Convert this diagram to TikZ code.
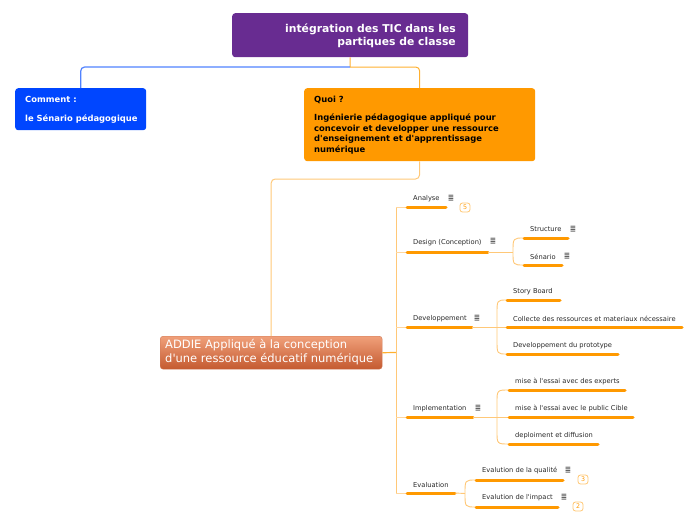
\documentclass[tikz,border=0pt]{standalone}
\usepackage{fontspec}
\newfontfamily\dv{DejaVu Sans}
\setmainfont{DejaVu Sans}
\definecolor{purpleT}{RGB}{104,44,145}
\definecolor{blueB}{RGB}{0,70,255}
\definecolor{blueC}{RGB}{80,130,255}
\definecolor{orangeB}{RGB}{255,153,0}
\definecolor{orangeC}{RGB}{255,176,48}
\definecolor{paleO}{RGB}{255,200,120}
\definecolor{paleO2}{RGB}{255,215,160}
\definecolor{addieTop}{RGB}{240,160,122}
\definecolor{addieBot}{RGB}{196,90,48}
\definecolor{textG}{RGB}{40,40,40}
\begin{document}
\begin{tikzpicture}[x=1pt,y=-1pt,
  box/.style={rounded corners=3pt, inner sep=0, anchor=north west},
  lbl/.style={anchor=west, inner sep=0, font=\dv\fontsize{6.7}{8}\selectfont, text=textG},
  uline/.style={line width=3pt, line cap=round, draw=orangeB},
  conn/.style={draw=paleO, line width=0.9pt},
  branch/.style={draw=paleO2, line width=0.9pt},
  noteicon/.style={inner sep=0, font=\dv\bfseries\fontsize{7.5}{7.5}\selectfont, text=black!70},
  badge/.style={draw=orangeB!55, line width=0.8pt, rounded corners=2.5pt, fill=white, text=orangeB, font=\dv\fontsize{6.3}{6.3}\selectfont, minimum width=10pt, minimum height=9pt, inner sep=0}
]
\useasboundingbox (0,0) rectangle (696,520);

% main boxes
\node[box, fill=purpleT, minimum width=236pt, minimum height=44pt] (title) at (232,13) {};
\node[anchor=east, align=right, inner sep=0, text=white, font=\dv\bfseries\fontsize{10.8}{13}\selectfont] (titletext) at (456,35.5) {intégration des TIC dans les\\partiques de classe};

\node[box, fill=blueB, minimum width=131pt, minimum height=42pt] (comment) at (15,88) {};
\node[anchor=west, inner sep=0, text=white, font=\dv\bfseries\fontsize{8.4}{9}\selectfont] (commentA) at (25,99) {Comment :};
\node[anchor=west, inner sep=0, text=white, font=\dv\bfseries\fontsize{8.4}{9}\selectfont] (commentB) at (25,119) {le Sénario pédagogique};

\node[box, fill=orangeB, minimum width=231pt, minimum height=73pt] (quoi) at (304,88) {};
\node[anchor=west, inner sep=0, text=black, font=\dv\bfseries\fontsize{8.4}{9}\selectfont] (quoiA) at (314,100) {Quoi ?};
\node[anchor=north west, align=left, inner sep=0, text=black, font=\dv\bfseries\fontsize{8.4}{10.7}\selectfont] (quoiB) at (314,113.5) {Ingénierie pédagogique appliqué pour\\concevoir et developper une ressource\\d'enseignement et d'apprentissage\\numérique};

\node[box, top color=addieTop, bottom color=addieBot, draw=addieBot!80, line width=0.4pt, minimum width=222pt, minimum height=33pt] (addie) at (160,336) {};
\node[anchor=west, align=left, inner sep=0, text=white, font=\dv\fontsize{11.5}{14}\selectfont] (addietext) at (165,352.5) {ADDIE Appliqué à la conception\\d'une ressource éducatif numérique};

% top connectors
\coordinate (j1) at (350,67);
\draw[orangeC, line width=1pt] (title.south) -- (j1);
\draw[blueC, line width=1.2pt, rounded corners=4pt] (j1) -| (comment.north);
\draw[orangeC, line width=1pt, rounded corners=4pt] (j1) -| (quoi.north);
\coordinate (j2) at (419.5,179);
\draw[paleO, line width=1pt, rounded corners=4pt] (quoi.south) -- (j2) -| (addie.north);

% trunk
\coordinate (tr) at (396,352.5);
\coordinate (trTop) at (396,207);
\coordinate (trBot) at (396,493);
\draw[orangeC, line width=1.2pt] (addie.east) -- (tr);
\draw[conn] (trTop) -- (trBot);

% Analyse
\coordinate (an1) at (407,207); \coordinate (an2) at (446,207);
\draw[branch] (trTop) -- (an1);
\draw[uline] (an1) -- (an2);
\node[lbl] (analyse) at (413,198.5) {Analyse};
\node[noteicon] (analyseN) at (451,198) {≣};
\node[badge] (analyseB) at (465,207.5) {5};

% Design
\coordinate (de1) at (407,252); \coordinate (de2) at (488,252);
\draw[branch] (396,252) -- (de1);
\draw[uline] (de1) -- (de2);
\node[lbl] (design) at (413,242.5) {Design (Conception)};
\node[noteicon] (designN) at (493,241.5) {≣};
\coordinate (dej) at (513,252);
\coordinate (st1) at (524,238); \coordinate (st2) at (568,238);
\coordinate (se1) at (524,265); \coordinate (se2) at (562,265);
\draw[conn] (de2) -- (dej);
\draw[conn] (st1) .. controls (513,238) .. (dej) .. controls (513,265) .. (se1);
\draw[uline] (st1) -- (st2);
\draw[uline] (se1) -- (se2);
\node[lbl] (structure) at (530,229.5) {Structure};
\node[noteicon] (structureN) at (573,229) {≣};
\node[lbl] (senario) at (530,256.5) {Sénario};
\node[noteicon] (senarioN) at (567,256) {≣};

% Developpement
\coordinate (dv1) at (407,327); \coordinate (dv2) at (472,327);
\draw[branch] (396,327) -- (dv1);
\draw[uline] (dv1) -- (dv2);
\node[lbl] (dev) at (413,318.5) {Developpement};
\node[noteicon] (devN) at (477,318) {≣};
\coordinate (dvj) at (497,327);
\coordinate (sb1) at (507,300); \coordinate (sb2) at (560,300);
\coordinate (co1) at (507,327); \coordinate (co2) at (682,327);
\coordinate (pr1) at (507,354); \coordinate (pr2) at (618,354);
\draw[conn] (dv2) -- (co1);
\draw[conn] (sb1) .. controls (497,300) .. (497,314) -- (497,340) .. controls (497,354) .. (pr1);
\draw[uline] (sb1) -- (sb2);
\draw[uline] (co1) -- (co2);
\draw[uline] (pr1) -- (pr2);
\node[lbl] (story) at (513,292) {Story Board};
\node[lbl] (collecte) at (513,319) {Collecte des ressources et materiaux nécessaire};
\node[lbl] (proto) at (513,345.5) {Developpement du prototype};

% Implementation
\coordinate (im1) at (407,417); \coordinate (im2) at (473,417);
\draw[branch] (396,417) -- (im1);
\draw[uline] (im1) -- (im2);
\node[lbl] (impl) at (413,408.5) {Implementation};
\node[noteicon] (implN) at (478,408) {≣};
\coordinate (imj) at (497,417);
\coordinate (ex1) at (509,390); \coordinate (ex2) at (625,390);
\coordinate (pu1) at (509,417); \coordinate (pu2) at (633,417);
\coordinate (di1) at (509,444); \coordinate (di2) at (598,444);
\draw[conn] (im2) -- (pu1);
\draw[conn] (ex1) .. controls (497,390) .. (497,403) -- (497,431) .. controls (497,444) .. (di1);
\draw[uline] (ex1) -- (ex2);
\draw[uline] (pu1) -- (pu2);
\draw[uline] (di1) -- (di2);
\node[lbl] (experts) at (515,381.5) {mise à l'essai avec des experts};
\node[lbl] (public) at (515,408.5) {mise à l'essai avec le public Cible};
\node[lbl] (deploi) at (515,435.5) {deploiment et diffusion};

% Evaluation
\coordinate (ev1) at (407,493); \coordinate (ev2) at (455,493);
\draw[branch] (trBot) -- (ev1);
\draw[uline] (ev1) -- (ev2);
\node[lbl] (eval) at (413,484.5) {Evaluation};
\coordinate (evj) at (465,493.5);
\coordinate (qu1) at (476,480); \coordinate (qu2) at (563,480);
\coordinate (ip1) at (476,507); \coordinate (ip2) at (558,507);
\draw[conn] (ev2) -- (evj);
\draw[conn] (qu1) .. controls (465,480) .. (evj) .. controls (465,507) .. (ip1);
\draw[uline] (qu1) -- (qu2);
\draw[uline] (ip1) -- (ip2);
\node[lbl] (qualite) at (482,470.5) {Evalution de la qualité};
\node[noteicon] (qualiteN) at (568,470) {≣};
\node[badge] (qualiteB) at (583,479.5) {3};
\node[lbl] (impact) at (482,497.5) {Evalution de l'impact};
\node[noteicon] (impactN) at (564,497) {≣};
\node[badge] (impactB) at (578,506.5) {2};
\end{tikzpicture}
\end{document}
